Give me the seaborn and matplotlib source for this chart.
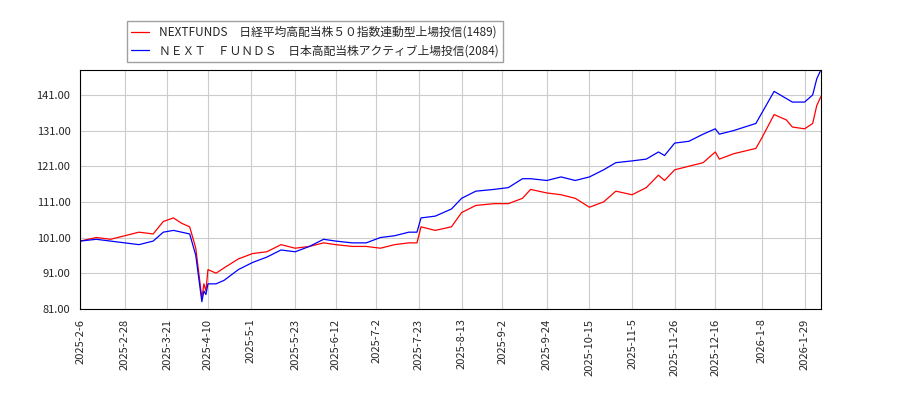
import matplotlib
matplotlib.use("Agg")
import matplotlib.pyplot as plt
import seaborn as sns
import pandas as pd

sns.set_style("white")
plt.rcParams['font.family'] = ['Noto Sans CJK JP', 'DejaVu Sans']

dates = ["2025-02-06","2025-02-14","2025-02-21","2025-02-28","2025-03-07","2025-03-14","2025-03-19","2025-03-24","2025-03-28",
 "2025-04-01","2025-04-04","2025-04-07","2025-04-08","2025-04-09","2025-04-10","2025-04-14","2025-04-18","2025-04-25",
 "2025-05-02","2025-05-09","2025-05-16","2025-05-23","2025-05-30","2025-06-06","2025-06-12","2025-06-20","2025-06-27",
 "2025-07-04","2025-07-11","2025-07-18","2025-07-22","2025-07-24","2025-07-31","2025-08-08","2025-08-13","2025-08-20",
 "2025-08-29","2025-09-05","2025-09-12","2025-09-16","2025-09-24","2025-10-01","2025-10-08","2025-10-15","2025-10-22",
 "2025-10-28","2025-11-05","2025-11-12","2025-11-18","2025-11-21","2025-11-26","2025-12-03","2025-12-10","2025-12-16",
 "2025-12-18","2025-12-25","2026-01-05","2026-01-08","2026-01-14","2026-01-20","2026-01-23","2026-01-29","2026-02-02",
 "2026-02-04","2026-02-06"]
red = [100,101,100.5,101.5,102.5,102,105.5,106.5,105,104,98,84,88,86,92,91,92.5,95,96.5,97,99,98,98.5,99.5,99,98.5,98.5,
 98,99,99.5,99.5,104,103,104,108,110,110.5,110.5,112,114.5,113.5,113,112,109.5,111,114,113,115,118.5,117,120,121,122,125,
 123,124.5,126,129,135.5,134,132,131.5,133,138,140.5]
blue = [100,100.5,100,99.5,99,100,102.5,103,102.5,102,96,83,86,85,88,88,89,92,94,95.5,97.5,97,98.5,100.5,100,99.5,99.5,
 101,101.5,102.5,102.5,106.5,107,109,112,114,114.5,115,117.5,117.5,117,118,117,118,120,122,122.5,123,125,124,127.5,128,
 130,131.5,130,131,133,136,142,140,139,139,141,145.5,148]
tick_dates = ["2025-02-06","2025-02-28","2025-03-21","2025-04-10","2025-05-01","2025-05-23","2025-06-12","2025-07-02",
 "2025-07-23","2025-08-13","2025-09-02","2025-09-24","2025-10-15","2025-11-05","2025-11-26","2025-12-16","2026-01-08","2026-01-29"]
name_red = "NEXTFUNDS　日経平均高配当株５０指数連動型上場投信(1489)"
name_blue = "ＮＥＸＴ　ＦＵＮＤＳ　日本高配当株アクティブ上場投信(2084)"

df = pd.DataFrame({"date": pd.to_datetime(dates), name_red: red, name_blue: blue})
long = df.melt(id_vars="date", var_name="series", value_name="value")

fig = plt.figure(figsize=(9, 4), dpi=100)
ax = fig.add_axes([0.089, 0.228, 0.823, 0.597])
sns.lineplot(data=long, x="date", y="value", hue="series", palette=["red", "blue"], linewidth=0.9, ax=ax)
ax.set_xlim(pd.Timestamp("2025-02-06"), pd.Timestamp("2026-02-06"))
ax.set_ylim(81, 148)
ax.set_yticks([81 + 10 * i for i in range(7)])
ax.yaxis.set_major_formatter(matplotlib.ticker.FormatStrFormatter("%.2f"))
ticks = pd.to_datetime(tick_dates)
ax.set_xticks(ticks)
ax.set_xticklabels([f"{t.year}-{t.month}-{t.day}" for t in ticks], rotation=90)
ax.tick_params(labelsize=8)
ax.grid(True, color="#cccccc", linewidth=0.8)
ax.set_xlabel(""); ax.set_ylabel("")
for s in ax.spines.values():
    s.set_color("black"); s.set_linewidth(0.8)
ax.legend(loc="upper left", bbox_to_anchor=(0.055, 1.23), fontsize=8.5, frameon=True,
          fancybox=False, edgecolor="#888888", handlelength=1.5)
fig.savefig("out.png")
